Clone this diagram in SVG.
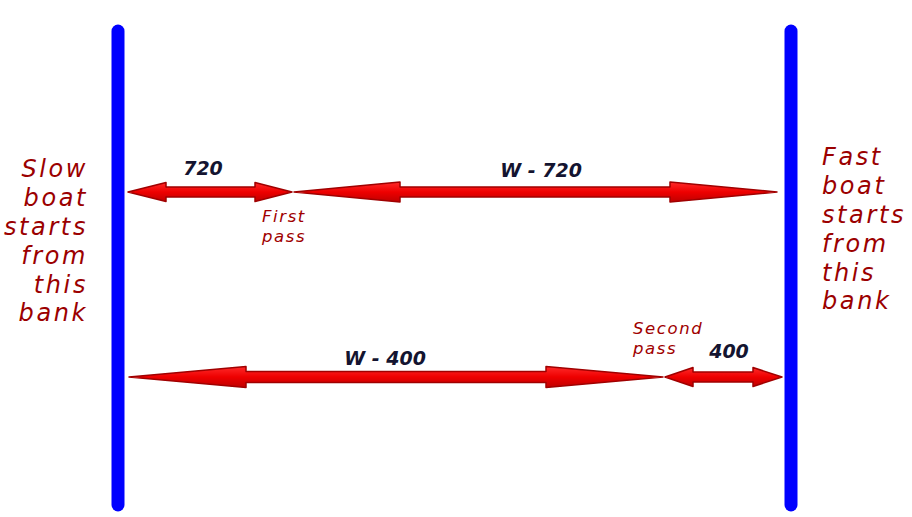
<svg xmlns="http://www.w3.org/2000/svg" width="912" height="517" viewBox="0 0 912 517">
<defs>
<linearGradient id="redg" x1="0" y1="0" x2="0" y2="1">
<stop offset="0" stop-color="#ff2a2a"/>
<stop offset="0.5" stop-color="#ee0000"/>
<stop offset="1" stop-color="#c00000"/>
</linearGradient>
</defs>
<style>
.bank{stroke:#0000ff;stroke-width:13;stroke-linecap:round;fill:none}
.side{font-family:"DejaVu Sans",sans-serif;font-style:italic;font-size:24px;letter-spacing:2.6px;fill:#9b0000}
.note{font-family:"DejaVu Sans",sans-serif;font-style:italic;font-size:16.5px;letter-spacing:1.6px;fill:#a00000}
.num{font-family:"DejaVu Sans",sans-serif;font-style:italic;font-weight:bold;font-size:19px;fill:#141430;text-anchor:middle}
.arrow{fill:url(#redg);stroke:#a00000;stroke-width:1.5;stroke-linejoin:round}
</style>
<rect width="912" height="517" fill="#ffffff"/>
<g id="slow-bank">
<line class="bank" x1="118" y1="31" x2="118" y2="505"/>
<text class="side" text-anchor="end" x="88" y="177">Slow</text>
<text class="side" text-anchor="end" x="88" y="206">boat</text>
<text class="side" text-anchor="end" x="88" y="235">starts</text>
<text class="side" text-anchor="end" x="88" y="264">from</text>
<text class="side" text-anchor="end" x="88" y="293">this</text>
<text class="side" text-anchor="end" x="88" y="321">bank</text>
</g>
<g id="fast-bank">
<line class="bank" x1="791" y1="31" x2="791" y2="505"/>
<text class="side" x="822" y="165">Fast</text>
<text class="side" x="822" y="194">boat</text>
<text class="side" x="822" y="223">starts</text>
<text class="side" x="822" y="252">from</text>
<text class="side" x="822" y="281">this</text>
<text class="side" x="822" y="309">bank</text>
</g>
<g id="connectors">
<polygon class="arrow" points="128,192 166,182.5 166,187 255,187 255,182.5 292,192 255,201.5 255,197 166,197 166,201.5"/>
<polygon class="arrow" points="294,192 400,182 400,187 670,187 670,182 777,192 670,202 670,197 400,197 400,202"/>
<polygon class="arrow" points="129,377 246,366.5 246,371.5 546,371.5 546,366.5 663,377 546,387.5 546,382.5 246,382.5 246,387.5"/>
<polygon class="arrow" points="665,377 693,367.5 693,372 753,372 753,367.5 782,377 753,386.5 753,382 693,382 693,386.5"/>
</g>
<g id="labels">
<text class="num" x="203" y="175">720</text>
<text class="num" x="541" y="177">W - 720</text>
<text class="num" x="385" y="365">W - 400</text>
<text class="num" x="729" y="358">400</text>
<text class="note" x="262" y="222">First</text>
<text class="note" x="262" y="242">pass</text>
<text class="note" x="633" y="334">Second</text>
<text class="note" x="633" y="354">pass</text>
</g>
</svg>
